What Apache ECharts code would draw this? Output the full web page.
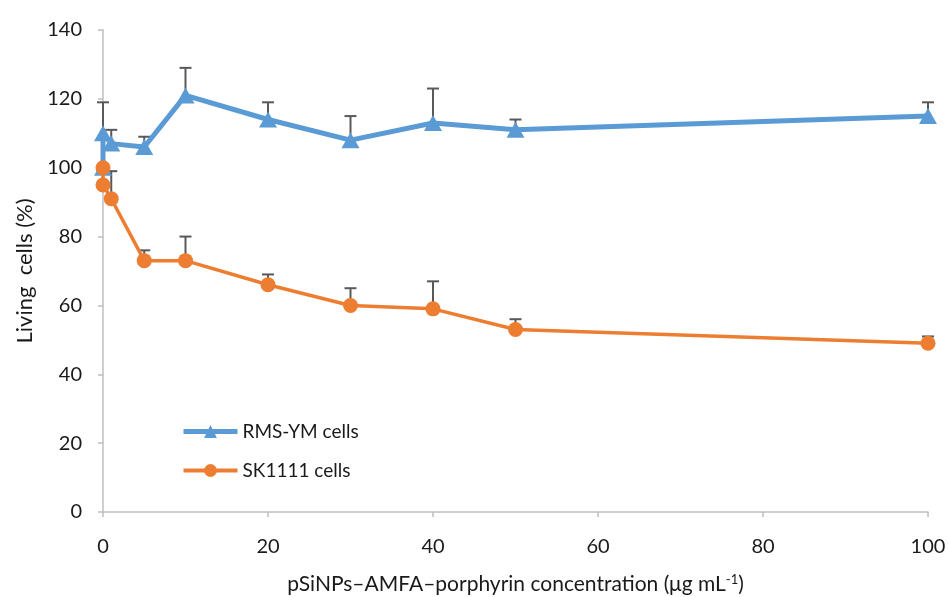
<!DOCTYPE html>
<html>
<head>
<meta charset="utf-8">
<script src="https://cdn.jsdelivr.net/npm/echarts@6/dist/echarts.min.js"></script>
<style>
  html, body { margin: 0; padding: 0; background: #fff; }
  #chart { width: 948px; height: 597px; }
</style>
</head>
<body>
<div id="chart"></div>
<script>
// concentration (ug/mL)
var conc = [0, 0, 1, 5, 10, 20, 30, 40, 50, 100];
// RMS-YM cells, living %
var rmsMean = [100, 110, 107, 106, 121, 114, 108, 113, 111, 115];
var rmsErr = [0, 9, 4, 3, 8, 5, 7, 10, 3, 4];
// SK1111 cells, living %
var skMean = [100, 95, 91, 73, 73, 66, 60, 59, 53, 49];
var skErr = [0, 0, 8, 3, 7, 3, 5, 8, 3, 2];

var xTicks = [0, 20, 40, 60, 80, 100];
var yTicks = [0, 20, 40, 60, 80, 100, 120, 140];

var FONT = 'Lato, "Liberation Sans", sans-serif';
var BLUE = '#5b9bd5';
var ORANGE = '#ed7d31';

function pairs(xs, ys) {
  var out = [];
  for (var i = 0; i < xs.length; i++) out.push([xs[i], ys[i]]);
  return out;
}
function errData(xs, ys, es) {
  var out = [];
  for (var i = 0; i < xs.length; i++) {
    if (es[i] > 0) out.push([xs[i], ys[i], ys[i] + es[i]]);
  }
  return out;
}

// upper error bar with cap
function renderErr(params, api) {
  var p0 = api.coord([api.value(0), api.value(1)]);
  var p1 = api.coord([api.value(0), api.value(2)]);
  var half = 6;
  var st = { stroke: '#595959', lineWidth: 2 };
  return {
    type: 'group',
    children: [
      { type: 'line', shape: { x1: p0[0], y1: p0[1], x2: p1[0], y2: p1[1] }, style: st },
      { type: 'line', shape: { x1: p1[0] - half, y1: p1[1], x2: p1[0] + half, y2: p1[1] }, style: st }
    ]
  };
}

var chart = echarts.init(document.getElementById('chart'));

var axisCommon = {
  axisLine: { show: true, lineStyle: { color: '#bfbfbf', width: 1.5 } },
  axisTick: { show: true, length: 5, lineStyle: { color: '#bfbfbf', width: 1.5 } },
  splitLine: { show: false }
};

var option = {
  animation: false,
  backgroundColor: '#fff',
  grid: { left: 103, right: 20, top: 30, bottom: 85, containLabel: false, outerBoundsMode: 'none' },
  legend: {
    orient: 'vertical',
    left: 176,
    top: 417,
    itemWidth: 54,
    itemHeight: 16,
    itemGap: 20,
    textStyle: { color: '#1a1a1a', fontSize: 19, fontFamily: FONT },
    data: [
      { name: 'RMS-YM cells', lineStyle: { width: 5, color: BLUE } },
      { name: 'SK1111 cells', lineStyle: { width: 4, color: ORANGE } }
    ]
  },
  xAxis: Object.assign({}, axisCommon, {
    type: 'value',
    min: xTicks[0],
    max: xTicks[xTicks.length - 1],
    interval: 20,
    name: '{a|pSiNPs–AMFA–porphyrin concentration (μg mL}{s|-1}{a|)}',
    nameLocation: 'middle',
    nameGap: 61,
    nameTextStyle: {
      color: '#1a1a1a', fontSize: 21, fontFamily: FONT,
      rich: {
        a: { fontSize: 21, fontFamily: FONT, color: '#1a1a1a' },
        s: { fontSize: 13, fontFamily: FONT, color: '#1a1a1a', verticalAlign: 'top', padding: [0, 0, 10, 0] }
      }
    },
    axisLabel: { color: '#1a1a1a', fontSize: 20, fontFamily: FONT, margin: 25 }
  }),
  yAxis: Object.assign({}, axisCommon, {
    type: 'value',
    min: yTicks[0],
    max: yTicks[yTicks.length - 1],
    interval: 20,
    name: 'Living  cells (%)',
    nameLocation: 'middle',
    nameGap: 63,
    nameTextStyle: { color: '#1a1a1a', fontSize: 22, fontFamily: FONT },
    axisLabel: { color: '#1a1a1a', fontSize: 20, fontFamily: FONT, margin: 21 }
  }),
  series: [
    {
      name: 'err-rms',
      type: 'custom',
      renderItem: renderErr,
      data: errData(conc, rmsMean, rmsErr),
      encode: { x: 0, y: [1, 2] },
      z: 1,
      silent: true
    },
    {
      name: 'err-sk',
      type: 'custom',
      renderItem: renderErr,
      data: errData(conc, skMean, skErr),
      encode: { x: 0, y: [1, 2] },
      z: 1,
      silent: true
    },
    {
      name: 'RMS-YM cells',
      type: 'line',
      data: pairs(conc, rmsMean),
      symbol: 'triangle',
      symbolSize: [18, 16],
      showAllSymbol: true,
      color: BLUE,
      lineStyle: { color: BLUE, width: 5 },
      itemStyle: { color: BLUE },
      z: 3
    },
    {
      name: 'SK1111 cells',
      type: 'line',
      data: pairs(conc, skMean),
      symbol: 'circle',
      symbolSize: 15,
      showAllSymbol: true,
      color: ORANGE,
      lineStyle: { color: ORANGE, width: 3.5 },
      itemStyle: { color: ORANGE },
      z: 4
    }
  ]
};

chart.setOption(option);
</script>
</body>
</html>
